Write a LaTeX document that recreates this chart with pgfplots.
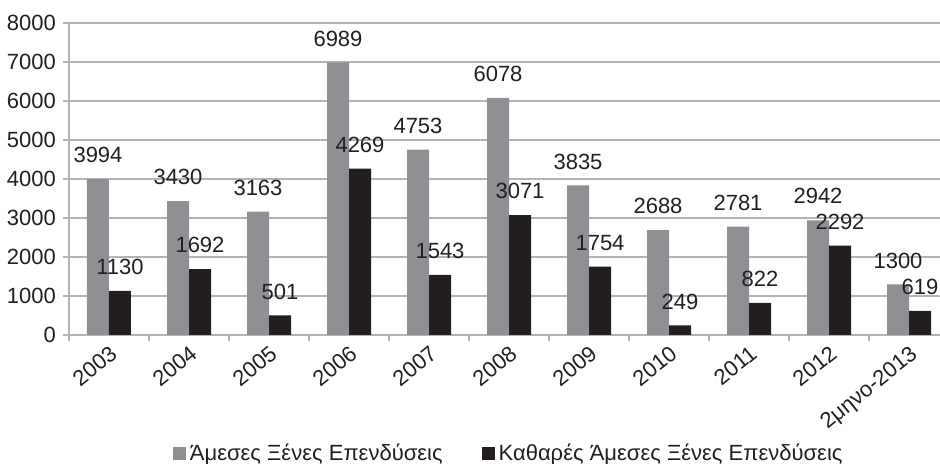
\documentclass[border=0pt]{standalone}
\usepackage{fontspec}
\setmainfont{Liberation Sans}
\usepackage{pgfplots}
\pgfplotsset{compat=1.18}
\definecolor{fdi}{HTML}{8F9094}
\definecolor{netfdi}{HTML}{231F20}
\definecolor{gridc}{HTML}{B4B4B4}
\begin{document}
\begin{tikzpicture}
\begin{axis}[
  at={(0,0)}, anchor=south west, scale only axis,
  width=435.5pt, height=156pt,
  ybar=0pt, bar width=11pt,
  xmin=-0.5, xmax=10.3875, ymin=0, ymax=8000,
  ytick={0,1000,...,8000}, scaled y ticks=false,
  xtick={0,...,10},
  xticklabels={2003,2004,2005,2006,2007,2008,2009,2010,2011,2012,2μηνο-2013},
  minor xtick={-0.5,0.5,...,10.5},
  major x tick style={draw=none},
  tick align=outside, major tick length=3pt, minor tick length=3pt,
  tick style={gridc, line width=0.8pt},
  ymajorgrids, major grid style={gridc, line width=0.8pt},
  axis x line*=bottom, axis y line*=left,
  axis line style={gridc, line width=0.8pt},
  /pgf/number format/assume math mode=true,
  /pgf/number format/1000 sep={},
  tick label style={font=\fontsize{11}{13}\selectfont, text=netfdi},
  xticklabel style={rotate=39, anchor=north east, inner sep=1pt},
  nodes near coords,
  every node near coord/.append style={font=\fontsize{11}{13}\selectfont, text=netfdi, yshift=4.5pt},
  legend columns=2,
  legend style={at={(0.506,-0.381)}, anchor=center, draw=none, fill=none,
    font=\fontsize{11}{13}\selectfont, text=netfdi,
    /tikz/every even column/.append style={column sep=17.5pt}},
  legend image code/.code={\fill[#1] (0pt,-3.3pt) rectangle (6.5pt,3.2pt);},
]
\addplot[fill=fdi, draw=none] coordinates {(0,3994) (1,3430) (2,3163) (3,6989) (4,4753) (5,6078) (6,3835) (7,2688) (8,2781) (9,2942) (10,1300)};
\addplot[fill=netfdi, draw=none] coordinates {(0,1130) (1,1692) (2,501) (3,4269) (4,1543) (5,3071) (6,1754) (7,249) (8,822) (9,2292) (10,619)};
\legend{Άμεσες Ξένες Επενδύσεις, Καθαρές Άμεσες Ξένες Επενδύσεις}
\end{axis}
\pgfresetboundingbox
\useasboundingbox (-34.5pt,-64.5pt) rectangle (435.5pt,167.5pt);
\end{tikzpicture}
\end{document}
